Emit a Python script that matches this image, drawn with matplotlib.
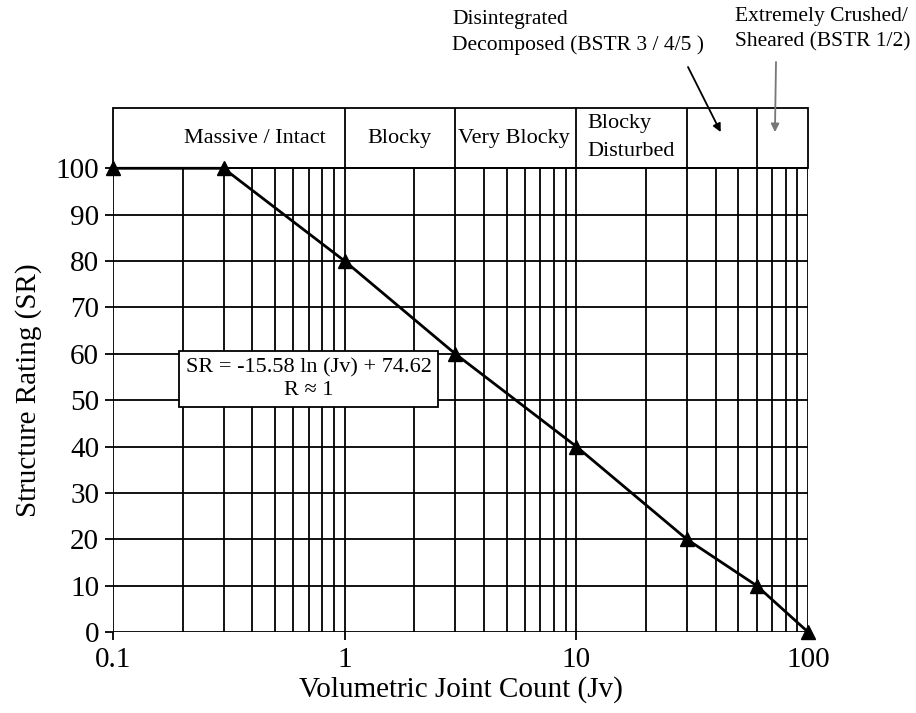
import numpy as np
import matplotlib.pyplot as plt
from matplotlib.patches import Rectangle

plt.rcParams['font.family'] = ['Liberation Serif', 'DejaVu Serif']

# data
jv = [0.1, 0.3, 1, 3, 10, 30, 60, 100]
sr = [100, 100, 80, 60, 40, 20, 10, 0]

x_ticks = [0.1, 1, 10, 100]
x_tick_labels = ['0.1', '1', '10', '100']
y_ticks = list(range(0, 101, 10))

# structure classes along the top band (edges in Jv)
class_edges = [0.1, 1, 3, 10, 30, 60, 100]
class_labels = ['Massive / Intact', 'Blocky', 'Very Blocky', 'Blocky\nDisturbed']

fig = plt.figure(figsize=(9.16, 7.13), dpi=100)
ax = fig.add_axes([113 / 916, 1 - 632 / 713, (808 - 113) / 916, (632 - 108) / 713])
ax.set_xscale('log')
ax.set_xlim(0.1, 100)
ax.set_ylim(0, 113)
for s in ax.spines.values():
    s.set_visible(False)

# grid: vertical at every log tick, horizontal every 10
grid_x = [m * 10.0 ** e for e in (-1, 0, 1) for m in range(1, 10)] + [100]
ax.vlines(grid_x, 0, 100, colors='black', lw=1.3, zorder=1)
ax.hlines(y_ticks, 0.1, 100, colors='black', lw=1.3, zorder=1)

# top band with class boxes
band = Rectangle((0.1, 100), 100 - 0.1, 13, fill=False, ec='black', lw=1.3, clip_on=False)
ax.add_patch(band)
ax.vlines(class_edges[1:-1], 100, 113, colors='black', lw=1.3)
ax.text(0.41, 106.5, class_labels[0], ha='center', va='center', fontsize=16)
ax.text(1.73, 106.5, class_labels[1], ha='center', va='center', fontsize=16)
ax.text(5.4, 106.5, class_labels[2], ha='center', va='center', fontsize=16)
ax.text(11.2, 106.6, class_labels[3], ha='left', va='center', fontsize=16, linespacing=1.6)

# data line
ax.plot(jv, sr, color='black', lw=2, marker='^', markersize=10, clip_on=False, zorder=3)

# fit equation box
ax.text(0.70, 54.5, 'SR = -15.58 ln (Jv) + 74.62\nR \u2248 1', ha='center', va='center',
        fontsize=16, multialignment='center', linespacing=1.3, zorder=4,
        bbox=dict(boxstyle='square,pad=0.3', fc='white', ec='black', lw=1.3))

ax.set_xticks(x_ticks)
ax.set_xticklabels(x_tick_labels)
ax.xaxis.set_minor_locator(plt.NullLocator())
ax.set_yticks(y_ticks)
ax.tick_params(axis='both', labelsize=21, width=1.3, color='black')
ax.tick_params(axis='x', length=6, pad=5)
ax.tick_params(axis='y', length=6, pad=4)

ax.set_xlabel('Volumetric Joint Count (Jv)', fontsize=21, labelpad=2)
ax.set_ylabel('Structure Rating (SR)', fontsize=21)
ax.yaxis.set_label_coords(-0.102, 0.462)

# annotations above the band
fig.text(452 / 916, 1 - 10 / 713, 'Disintegrated\nDecomposed (BSTR 3 / 4/5 )',
         ha='left', va='top', fontsize=15.5, linespacing=1.45)
fig.text(735 / 916, 1 - 7 / 713, 'Extremely Crushed/\nSheared (BSTR 1/2)',
         ha='left', va='top', fontsize=15.5, linespacing=1.45)
ax.annotate('', xy=(42, 107.8), xytext=(688, 713 - 67), textcoords='figure pixels',
            annotation_clip=False,
            arrowprops=dict(arrowstyle='-|>', color='black', lw=1.3,
                            mutation_scale=12, shrinkA=0, shrinkB=0))
ax.annotate('', xy=(72, 107.8), xytext=(776, 713 - 62), textcoords='figure pixels',
            annotation_clip=False,
            arrowprops=dict(arrowstyle='-|>', color='#777777', lw=1.3,
                            mutation_scale=12, shrinkA=0, shrinkB=0))

fig.savefig('out.png', dpi=100)
